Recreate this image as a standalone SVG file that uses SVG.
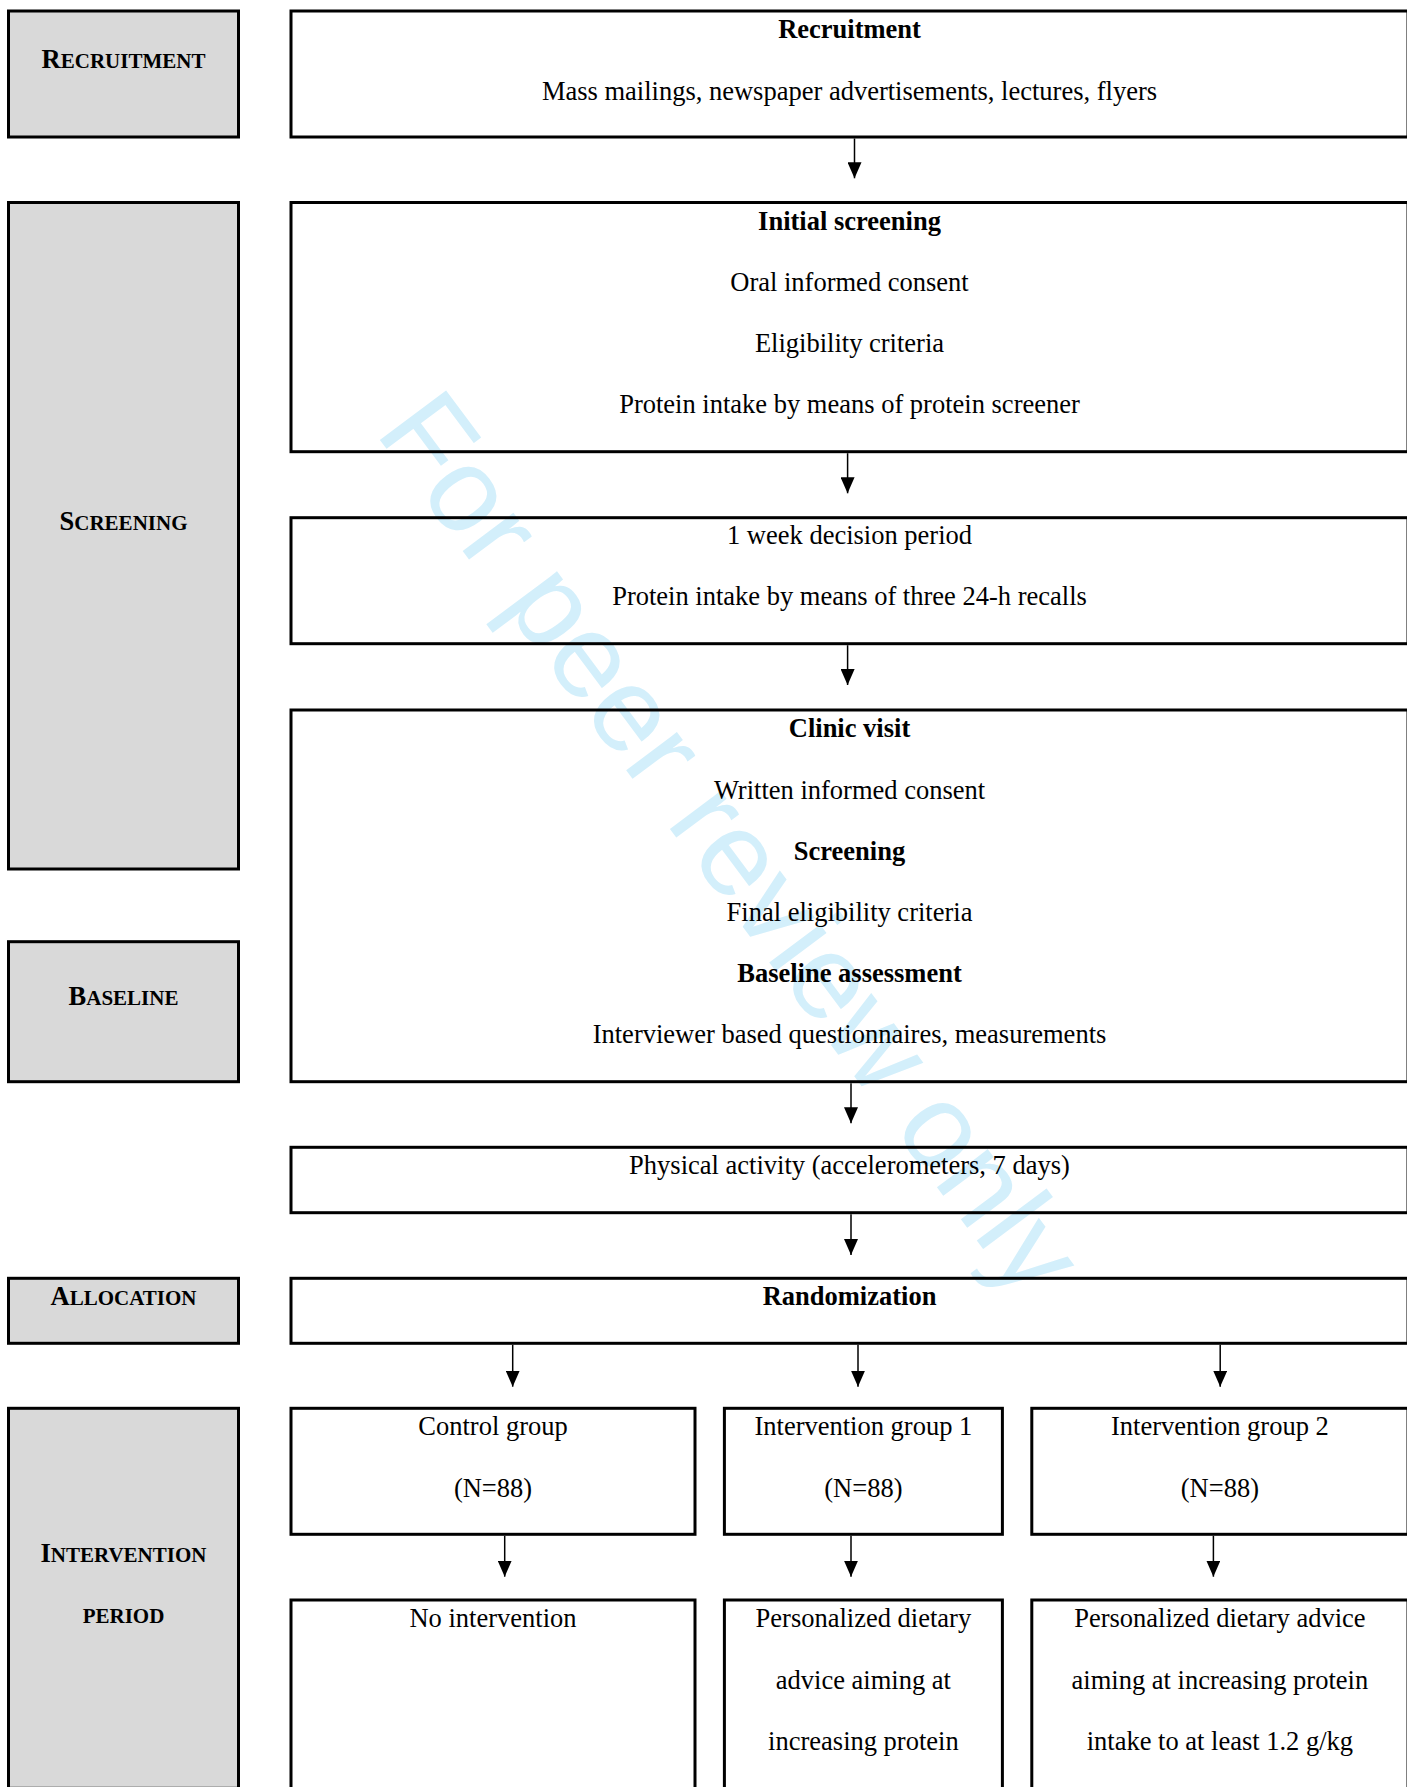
<svg xmlns="http://www.w3.org/2000/svg" width="1407" height="1787" viewBox="0 0 1407 1787">
<style>
.lab{fill:#d9d9d9;stroke:#000;stroke-width:3}
.box{fill:none;stroke:#000;stroke-width:3}
.t{font-family:"Liberation Serif","Times New Roman",serif;font-size:26.5px;fill:#000;text-anchor:middle}
.b{font-weight:bold}
.sc{font-size:21px}
.conn{stroke:#000;stroke-width:1.5;fill:none;marker-end:url(#ah)}
.wm{font-family:"Liberation Sans",Arial,sans-serif;font-size:120px;fill:#d3effb}
</style>
<defs>
<marker id="ah" viewBox="0 0 16 14" refX="16" refY="7" markerWidth="16" markerHeight="14" markerUnits="userSpaceOnUse" orient="auto">
<path d="M0,0 L16,7 L0,14 z" fill="#000"/>
</marker>
</defs>
<rect x="0" y="0" width="1407" height="1787" fill="#fff"/>
<g id="watermark"><text class="wm" transform="translate(374,432) rotate(53.3)">For peer review only</text></g>

<g id="label-recruitment"><rect class="lab" x="8.5" y="11" width="230" height="126"/><text class="t b" x="123.5" y="68">R<tspan class="sc">ECRUITMENT</tspan></text></g>
<g id="label-screening"><rect class="lab" x="8.5" y="202.5" width="230" height="666.5"/><text class="t b" x="123.5" y="529.5">S<tspan class="sc">CREENING</tspan></text></g>
<g id="label-baseline"><rect class="lab" x="8.5" y="941.7" width="230" height="140"/><text class="t b" x="123.5" y="1005">B<tspan class="sc">ASELINE</tspan></text></g>
<g id="label-allocation"><rect class="lab" x="8.5" y="1278.3" width="230" height="65"/><text class="t b" x="123.5" y="1305">A<tspan class="sc">LLOCATION</tspan></text></g>
<g id="label-intervention"><rect class="lab" x="8.5" y="1408.3" width="230" height="380"/><text class="t b" x="123.5" y="1562">I<tspan class="sc">NTERVENTION</tspan></text><text class="t b sc" x="123.5" y="1623">PERIOD</text></g>

<g id="recruitment"><rect class="box" x="291" y="11" width="1117" height="126"/><text class="t b" x="849.5" y="38">Recruitment</text><text class="t" x="849.5" y="99.5">Mass mailings, newspaper advertisements, lectures, flyers</text></g>
<g id="initial-screening"><rect class="box" x="291" y="202.5" width="1117" height="249.2"/><text class="t b" x="849.5" y="230">Initial screening</text><text class="t" x="849.5" y="291">Oral informed consent</text><text class="t" x="849.5" y="352">Eligibility criteria</text><text class="t" x="849.5" y="413">Protein intake by means of protein screener</text></g>
<g id="decision-period"><rect class="box" x="291" y="517.7" width="1117" height="126"/><text class="t" x="849.5" y="543.5">1 week decision period</text><text class="t" x="849.5" y="605">Protein intake by means of three 24-h recalls</text></g>
<g id="clinic-visit"><rect class="box" x="291" y="710" width="1117" height="371.7"/><text class="t b" x="849.5" y="737">Clinic visit</text><text class="t" x="849.5" y="798.5">Written informed consent</text><text class="t b" x="849.5" y="859.5">Screening</text><text class="t" x="849.5" y="920.5">Final eligibility criteria</text><text class="t b" x="849.5" y="982">Baseline assessment</text><text class="t" x="849.5" y="1043">Interviewer based questionnaires, measurements</text></g>
<g id="physical-activity"><rect class="box" x="291" y="1147.3" width="1117" height="65.4"/><text class="t" x="849.5" y="1174">Physical activity (accelerometers, 7 days)</text></g>
<g id="randomization"><rect class="box" x="291" y="1278.3" width="1117" height="65"/><text class="t b" x="849.5" y="1304.5">Randomization</text></g>
<g id="control-group"><rect class="box" x="291" y="1408.3" width="404" height="126"/><text class="t" x="493" y="1435">Control group</text><text class="t" x="493" y="1496.5">(N=88)</text></g>
<g id="intervention-group-1"><rect class="box" x="724.4" y="1408.3" width="278" height="126"/><text class="t" x="863.4" y="1435">Intervention group 1</text><text class="t" x="863.4" y="1496.5">(N=88)</text></g>
<g id="intervention-group-2"><rect class="box" x="1031.8" y="1408.3" width="376.2" height="126"/><text class="t" x="1219.9" y="1435">Intervention group 2</text><text class="t" x="1219.9" y="1496.5">(N=88)</text></g>
<g id="no-intervention"><rect class="box" x="291" y="1600" width="404" height="190"/><text class="t" x="493" y="1627">No intervention</text></g>
<g id="advice-1"><rect class="box" x="724.4" y="1600" width="278" height="190"/><text class="t" x="863.4" y="1627">Personalized dietary</text><text class="t" x="863.4" y="1688.5">advice aiming at</text><text class="t" x="863.4" y="1750">increasing protein</text></g>
<g id="advice-2"><rect class="box" x="1031.8" y="1600" width="376.2" height="190"/><text class="t" x="1219.9" y="1627">Personalized dietary advice</text><text class="t" x="1219.9" y="1688.5">aiming at increasing protein</text><text class="t" x="1219.9" y="1750">intake to at least 1.2 g/kg</text></g>

<g id="connectors">
<line class="conn" x1="854.5" y1="138.5" x2="854.5" y2="178.3"/>
<line class="conn" x1="847.6" y1="453.2" x2="847.6" y2="493.3"/>
<line class="conn" x1="847.6" y1="645.2" x2="847.6" y2="685"/>
<line class="conn" x1="851" y1="1083.2" x2="851" y2="1123.3"/>
<line class="conn" x1="851" y1="1214.2" x2="851" y2="1255"/>
<line class="conn" x1="512.7" y1="1344.8" x2="512.7" y2="1386.7"/>
<line class="conn" x1="858" y1="1344.8" x2="858" y2="1386.7"/>
<line class="conn" x1="1220.2" y1="1344.8" x2="1220.2" y2="1386.7"/>
<line class="conn" x1="504.7" y1="1535.8" x2="504.7" y2="1576.7"/>
<line class="conn" x1="851" y1="1535.8" x2="851" y2="1576.7"/>
<line class="conn" x1="1213.4" y1="1535.8" x2="1213.4" y2="1576.7"/>
</g>
</svg>
